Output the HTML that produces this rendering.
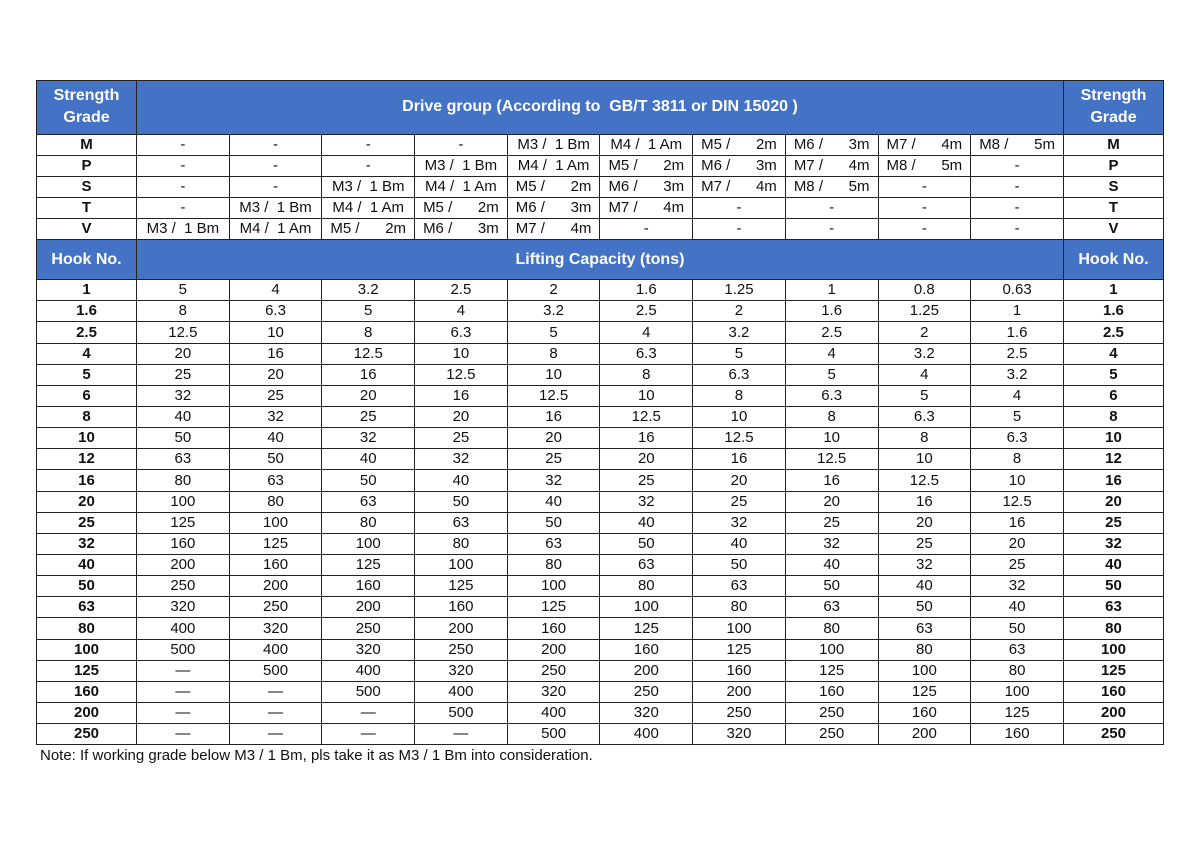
<!DOCTYPE html>
<html><head><meta charset="utf-8"><style>
body{margin:0;width:1200px;height:849px;background:#fff;position:relative;font-family:"Liberation Sans",Arial,sans-serif;}
table{position:absolute;left:36px;top:80px;border-collapse:collapse;table-layout:fixed;width:1127px;}
td{border:1.5px solid #222;text-align:center;font-size:15px;color:#111;padding:0;height:20.15px;line-height:18px;white-space:pre;overflow:hidden}
td.h{background:#4472c4;color:#fff;font-weight:bold;font-size:16px;line-height:22px}
td.b{font-weight:bold}
.s{display:flex;justify-content:space-between;padding:0 8px}
.note{position:absolute;left:40px;top:747px;font-size:15px;color:#111}
</style></head><body>
<table>
<colgroup><col style="width:100px"><col span="10" style="width:92.7px"><col style="width:100px"></colgroup>
<tr><td class="h" style="height:52.5px">Strength
Grade</td><td class="h" colspan="10">Drive group (According to  GB/T 3811 or DIN 15020 )</td><td class="h">Strength
Grade</td></tr>
<tr><td class="b">M</td><td>-</td><td>-</td><td>-</td><td>-</td><td>M3 /  1 Bm</td><td>M4 /  1 Am</td><td><div class="s"><span>M5 /</span><span>2m</span></div></td><td><div class="s"><span>M6 /</span><span>3m</span></div></td><td><div class="s"><span>M7 /</span><span>4m</span></div></td><td><div class="s"><span>M8 /</span><span>5m</span></div></td><td class="b">M</td></tr>
<tr><td class="b">P</td><td>-</td><td>-</td><td>-</td><td>M3 /  1 Bm</td><td>M4 /  1 Am</td><td><div class="s"><span>M5 /</span><span>2m</span></div></td><td><div class="s"><span>M6 /</span><span>3m</span></div></td><td><div class="s"><span>M7 /</span><span>4m</span></div></td><td><div class="s"><span>M8 /</span><span>5m</span></div></td><td>-</td><td class="b">P</td></tr>
<tr><td class="b">S</td><td>-</td><td>-</td><td>M3 /  1 Bm</td><td>M4 /  1 Am</td><td><div class="s"><span>M5 /</span><span>2m</span></div></td><td><div class="s"><span>M6 /</span><span>3m</span></div></td><td><div class="s"><span>M7 /</span><span>4m</span></div></td><td><div class="s"><span>M8 /</span><span>5m</span></div></td><td>-</td><td>-</td><td class="b">S</td></tr>
<tr><td class="b">T</td><td>-</td><td>M3 /  1 Bm</td><td>M4 /  1 Am</td><td><div class="s"><span>M5 /</span><span>2m</span></div></td><td><div class="s"><span>M6 /</span><span>3m</span></div></td><td><div class="s"><span>M7 /</span><span>4m</span></div></td><td>-</td><td>-</td><td>-</td><td>-</td><td class="b">T</td></tr>
<tr><td class="b">V</td><td>M3 /  1 Bm</td><td>M4 /  1 Am</td><td><div class="s"><span>M5 /</span><span>2m</span></div></td><td><div class="s"><span>M6 /</span><span>3m</span></div></td><td><div class="s"><span>M7 /</span><span>4m</span></div></td><td>-</td><td>-</td><td>-</td><td>-</td><td>-</td><td class="b">V</td></tr>
<tr><td class="h" style="height:39px">Hook No.</td><td class="h" colspan="10">Lifting Capacity (tons)</td><td class="h">Hook No.</td></tr>
<tr><td class="b">1</td><td>5</td><td>4</td><td>3.2</td><td>2.5</td><td>2</td><td>1.6</td><td>1.25</td><td>1</td><td>0.8</td><td>0.63</td><td class="b">1</td></tr>
<tr><td class="b">1.6</td><td>8</td><td>6.3</td><td>5</td><td>4</td><td>3.2</td><td>2.5</td><td>2</td><td>1.6</td><td>1.25</td><td>1</td><td class="b">1.6</td></tr>
<tr><td class="b">2.5</td><td>12.5</td><td>10</td><td>8</td><td>6.3</td><td>5</td><td>4</td><td>3.2</td><td>2.5</td><td>2</td><td>1.6</td><td class="b">2.5</td></tr>
<tr><td class="b">4</td><td>20</td><td>16</td><td>12.5</td><td>10</td><td>8</td><td>6.3</td><td>5</td><td>4</td><td>3.2</td><td>2.5</td><td class="b">4</td></tr>
<tr><td class="b">5</td><td>25</td><td>20</td><td>16</td><td>12.5</td><td>10</td><td>8</td><td>6.3</td><td>5</td><td>4</td><td>3.2</td><td class="b">5</td></tr>
<tr><td class="b">6</td><td>32</td><td>25</td><td>20</td><td>16</td><td>12.5</td><td>10</td><td>8</td><td>6.3</td><td>5</td><td>4</td><td class="b">6</td></tr>
<tr><td class="b">8</td><td>40</td><td>32</td><td>25</td><td>20</td><td>16</td><td>12.5</td><td>10</td><td>8</td><td>6.3</td><td>5</td><td class="b">8</td></tr>
<tr><td class="b">10</td><td>50</td><td>40</td><td>32</td><td>25</td><td>20</td><td>16</td><td>12.5</td><td>10</td><td>8</td><td>6.3</td><td class="b">10</td></tr>
<tr><td class="b">12</td><td>63</td><td>50</td><td>40</td><td>32</td><td>25</td><td>20</td><td>16</td><td>12.5</td><td>10</td><td>8</td><td class="b">12</td></tr>
<tr><td class="b">16</td><td>80</td><td>63</td><td>50</td><td>40</td><td>32</td><td>25</td><td>20</td><td>16</td><td>12.5</td><td>10</td><td class="b">16</td></tr>
<tr><td class="b">20</td><td>100</td><td>80</td><td>63</td><td>50</td><td>40</td><td>32</td><td>25</td><td>20</td><td>16</td><td>12.5</td><td class="b">20</td></tr>
<tr><td class="b">25</td><td>125</td><td>100</td><td>80</td><td>63</td><td>50</td><td>40</td><td>32</td><td>25</td><td>20</td><td>16</td><td class="b">25</td></tr>
<tr><td class="b">32</td><td>160</td><td>125</td><td>100</td><td>80</td><td>63</td><td>50</td><td>40</td><td>32</td><td>25</td><td>20</td><td class="b">32</td></tr>
<tr><td class="b">40</td><td>200</td><td>160</td><td>125</td><td>100</td><td>80</td><td>63</td><td>50</td><td>40</td><td>32</td><td>25</td><td class="b">40</td></tr>
<tr><td class="b">50</td><td>250</td><td>200</td><td>160</td><td>125</td><td>100</td><td>80</td><td>63</td><td>50</td><td>40</td><td>32</td><td class="b">50</td></tr>
<tr><td class="b">63</td><td>320</td><td>250</td><td>200</td><td>160</td><td>125</td><td>100</td><td>80</td><td>63</td><td>50</td><td>40</td><td class="b">63</td></tr>
<tr><td class="b">80</td><td>400</td><td>320</td><td>250</td><td>200</td><td>160</td><td>125</td><td>100</td><td>80</td><td>63</td><td>50</td><td class="b">80</td></tr>
<tr><td class="b">100</td><td>500</td><td>400</td><td>320</td><td>250</td><td>200</td><td>160</td><td>125</td><td>100</td><td>80</td><td>63</td><td class="b">100</td></tr>
<tr><td class="b">125</td><td>—</td><td>500</td><td>400</td><td>320</td><td>250</td><td>200</td><td>160</td><td>125</td><td>100</td><td>80</td><td class="b">125</td></tr>
<tr><td class="b">160</td><td>—</td><td>—</td><td>500</td><td>400</td><td>320</td><td>250</td><td>200</td><td>160</td><td>125</td><td>100</td><td class="b">160</td></tr>
<tr><td class="b">200</td><td>—</td><td>—</td><td>—</td><td>500</td><td>400</td><td>320</td><td>250</td><td>250</td><td>160</td><td>125</td><td class="b">200</td></tr>
<tr><td class="b">250</td><td>—</td><td>—</td><td>—</td><td>—</td><td>500</td><td>400</td><td>320</td><td>250</td><td>200</td><td>160</td><td class="b">250</td></tr>
</table>
<div class="note">Note: If working grade below M3 /  1 Bm, pls take it as M3 /  1 Bm into consideration.</div>
</body></html>
